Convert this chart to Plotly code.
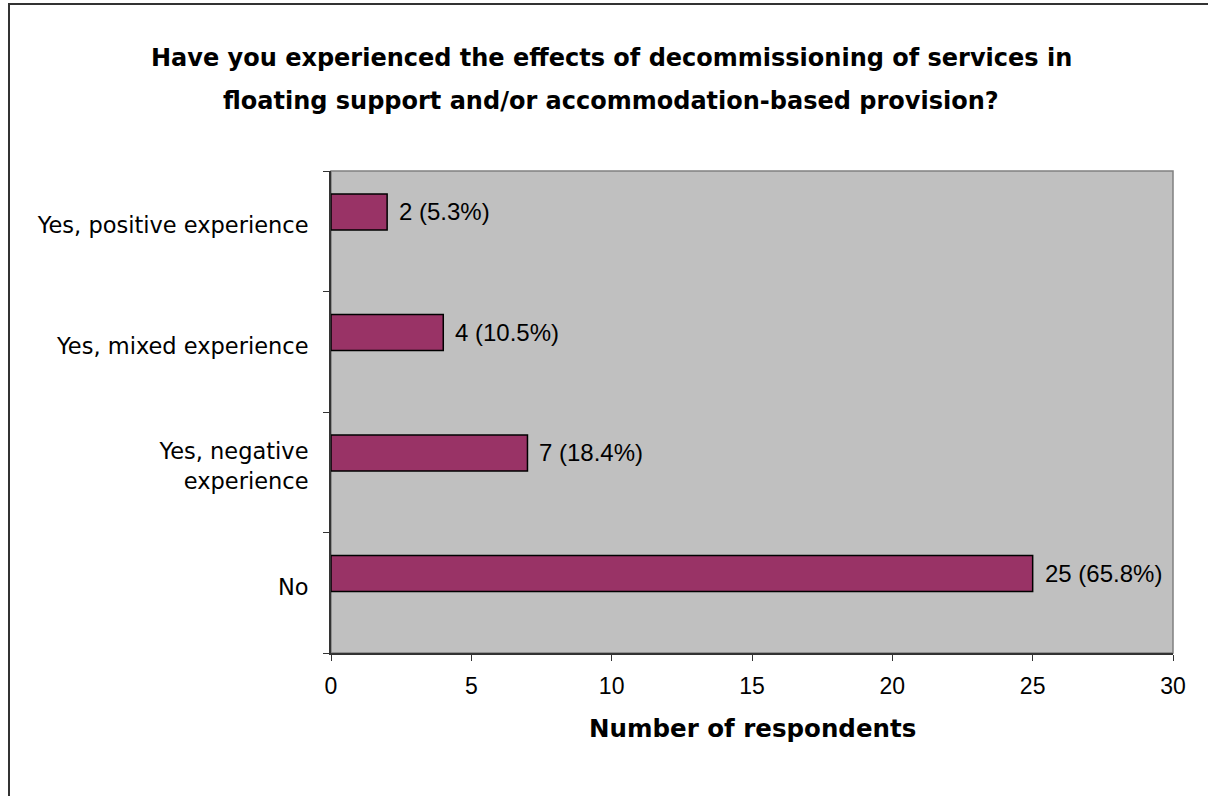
import plotly.graph_objects as go

categories = ["Yes, positive experience", "Yes, mixed experience", "Yes, negative<br>experience", "No"]
counts = [2, 4, 7, 25]
percents = [5.3, 10.5, 18.4, 65.8]
x_ticks = [0, 5, 10, 15, 20, 25, 30]
title_lines = ["Have you experienced the effects of decommissioning of services in",
               "floating support and/or accommodation-based provision?"]
x_title = "Number of respondents"

W, H = 1208, 796
L, R, T, B = 331, 1173, 171, 653
pw, ph = R - L, B - T

def px(x):
    return (x - L) / pw

def py(y):
    return (B - y) / ph

positions = list(range(len(categories)))
bar_w = 0.3
bar_off = -0.31

fig = go.Figure()
fig.add_trace(go.Bar(
    x=counts, y=positions, orientation="h",
    width=bar_w, offset=bar_off,
    marker=dict(color="#993366", line=dict(color="#000000", width=1.5)),
    hoverinfo="skip",
))

for p, c, pc in zip(positions, counts, percents):
    fig.add_annotation(
        x=c, y=p + bar_off + bar_w / 2, xref="x", yref="y",
        text=f"{c} ({pc}%)", showarrow=False, xanchor="left", yanchor="middle",
        xshift=10, font=dict(family="Liberation Sans, Arial", size=24, color="#000000"),
    )

title_font = dict(family="DejaVu Sans", size=24, color="#000000", weight="bold")
for line, yy in zip(title_lines, [58, 101]):
    fig.add_annotation(
        x=px(611), y=py(yy), xref="paper", yref="paper", text=line,
        showarrow=False, xanchor="center", yanchor="middle", font=title_font,
    )

fig.add_annotation(
    x=px(752), y=py(728), xref="paper", yref="paper", text=x_title,
    showarrow=False, xanchor="center", yanchor="middle",
    font=dict(family="DejaVu Sans", size=24.5, color="#000000", weight="bold"),
)

# plot area frame
fig.add_shape(type="rect", xref="paper", yref="paper", x0=0, x1=1, y0=0, y1=1,
              line=dict(color="#808080", width=1.5), layer="below")
# outer chart border
fig.add_shape(type="rect", xref="paper", yref="paper",
              x0=px(9), x1=px(1220), y0=py(810), y1=py(4),
              line=dict(color="#333333", width=2))

fig.update_layout(
    width=W, height=H,
    margin=dict(l=L, r=W - R, t=T, b=H - B, pad=0),
    paper_bgcolor="#FFFFFF", plot_bgcolor="#C0C0C0",
    showlegend=False,
    xaxis=dict(
        range=[0, 30], tickvals=x_ticks, ticks="outside", ticklen=6, tickcolor="#333333",
        showgrid=False, zeroline=False, showline=True, linecolor="#333333", linewidth=2,
        tickfont=dict(family="Liberation Sans, Arial", size=23, color="#000000"),
        ticklabelstandoff=5,
        fixedrange=True,
    ),
    yaxis=dict(
        range=[len(categories) - 0.5, -0.5], tickvals=[p - 0.05 for p in positions], ticktext=categories,
        ticks="", showgrid=False, zeroline=False, showline=True, linecolor="#333333", linewidth=2,
        tickfont=dict(family="DejaVu Sans", size=22.5, color="#000000"),
        ticklabelstandoff=16,
        minor=dict(tickvals=[p - 0.5 for p in positions] + [len(categories) - 0.5],
                   ticks="outside", ticklen=6, tickcolor="#333333", showgrid=False),
        fixedrange=True,
    ),
)

fig.write_html("out.html", config={"displayModeBar": False},
               post_script="document.body.style.margin='0';")
